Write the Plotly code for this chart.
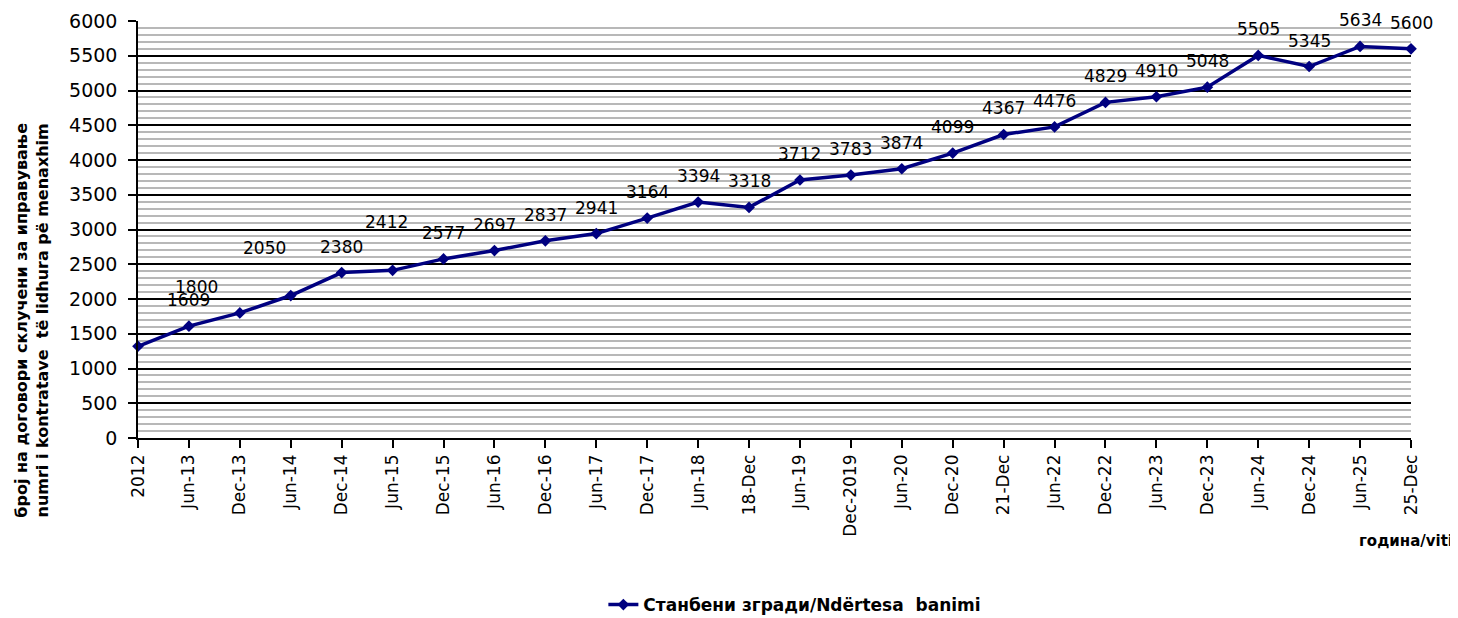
import plotly.graph_objects as go

categories = ["2012", "Jun-13", "Dec-13", "Jun-14", "Dec-14", "Jun-15", "Dec-15", "Jun-16",
              "Dec-16", "Jun-17", "Dec-17", "Jun-18", "18-Dec", "Jun-19", "Dec-2019", "Jun-20",
              "Dec-20", "21-Dec", "Jun-22", "Dec-22", "Jun-23", "Dec-23", "Jun-24", "Dec-24",
              "Jun-25", "25-Dec"]
values = [1320, 1609, 1800, 2050, 2380, 2412, 2577, 2697, 2837, 2941, 3164, 3394, 3318,
          3712, 3783, 3874, 4099, 4367, 4476, 4829, 4910, 5048, 5505, 5345, 5634, 5600]
series_name = "Станбени згради/Ndërtesa  banimi"
y_title = "број на договори склучени за иправување<br>numri i kontratave  të lidhura pë menaxhim"
x_title = "година/viti"

# label offsets (pixels) for hand-moved data labels
label_dx = {2: -43, 3: -26, 5: -6}
label_dy = {3: -48, 5: -48}

NAVY = "#000080"

fig = go.Figure()
fig.add_trace(go.Scatter(
    x=categories, y=values, mode="lines+markers", name=series_name,
    line=dict(color=NAVY, width=3.5),
    marker=dict(symbol="diamond", size=9, color=NAVY),
    cliponaxis=False,
))

for i, (c, v) in enumerate(zip(categories, values)):
    fig.add_annotation(
        x=c, y=v, text=str(v), showarrow=False,
        xshift=label_dx.get(i, 0), yshift=-label_dy.get(i, -26),
        font=dict(family="DejaVu Sans", size=17, color="#000"),
    )

fig.add_annotation(
    xref="paper", yref="paper", x=-0.0835, y=0.283, text=y_title, textangle=-90,
    showarrow=False, xanchor="center", yanchor="middle",
    font=dict(family="DejaVu Sans", size=16, color="#000", weight="bold"),
)
fig.add_annotation(
    xref="paper", yref="paper", x=1.0346, y=-0.247, text=x_title,
    showarrow=False, xanchor="right", yanchor="middle",
    font=dict(family="DejaVu Sans", size=15, color="#000", weight="bold"),
)

fig.update_layout(
    width=1458, height=618,
    margin=dict(l=130, r=55, t=13, b=188, autoexpand=False),
    paper_bgcolor="white", plot_bgcolor="white",
    showlegend=True,
    legend=dict(orientation="h", xref="paper", x=0.516, xanchor="center",
                yref="container", y=0.034, yanchor="middle",
                font=dict(family="DejaVu Sans", size=17, color="#000", weight="bold")),
    xaxis=dict(
        type="category", range=[0, len(categories) - 1], automargin=False,
        showline=True, linecolor="#000", linewidth=1.5,
        ticks="outside", ticklen=8, tickcolor="#000", tickwidth=1.5,
        tickangle=-90, showgrid=False, zeroline=False,
        tickfont=dict(family="DejaVu Sans", size=17, color="#000"),
    ),
    yaxis=dict(
        range=[0, 6000], dtick=500, tick0=0, automargin=False,
        showline=True, linecolor="#000", linewidth=1.5,
        ticks="outside", ticklen=8, tickcolor="#000", tickwidth=1.5,
        ticklabelstandoff=7,
        showgrid=True, gridcolor="#000", gridwidth=2, zeroline=False,
        minor=dict(dtick=100, showgrid=True, gridcolor="#b8b8b8", gridwidth=2, ticks=""),
        tickfont=dict(family="DejaVu Sans", size=19, color="#000"),
    ),
)

fig.write_html("out.html")
